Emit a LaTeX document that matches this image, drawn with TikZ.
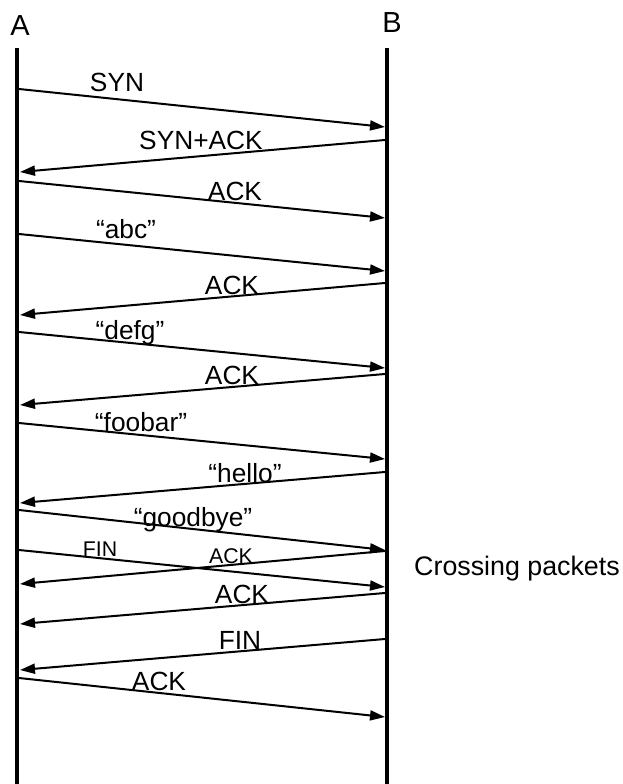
\documentclass[tikz,border=0pt]{standalone}
\usepackage{fontspec}
\setmainfont{Liberation Sans}
\usetikzlibrary{arrows.meta}
\begin{document}
\begin{tikzpicture}[x=1pt,y=-1pt,
  life/.style={line width=3.2pt},
  msg/.style={line width=2pt,-{Triangle[length=15pt,width=10pt]}},
  lbl/.style={anchor=base,inner sep=0pt,font=\fontsize{26.3}{30}\selectfont},
  smalllbl/.style={anchor=base,inner sep=0pt,font=\fontsize{21.3}{24}\selectfont},
  head/.style={anchor=base,inner sep=0pt,font=\fontsize{29}{32}\selectfont}]
\useasboundingbox (0,0) rectangle (623,784);
% lifelines
\coordinate (Atop) at (17,48); \coordinate (Abot) at (17,784);
\coordinate (Btop) at (387,48); \coordinate (Bbot) at (387,784);
\draw[life] (Atop) -- (Abot);
\draw[life] (Btop) -- (Bbot);
\node[head] (Alab) at (20,36) {A};
\node[head] (Blab) at (392,33) {B};
% endpoints
\coordinate (a1) at (19,89);   \coordinate (b1) at (385,127);
\coordinate (b2) at (385,140); \coordinate (a2) at (20,172);
\coordinate (a3) at (19,181);  \coordinate (b3) at (385,218);
\coordinate (a4) at (19,234);  \coordinate (b4) at (385,271);
\coordinate (b5) at (385,283); \coordinate (a5) at (20,315);
\coordinate (a6) at (19,332);  \coordinate (b6) at (385,368);
\coordinate (b7) at (385,374); \coordinate (a7) at (20,405);
\coordinate (a8) at (19,423);  \coordinate (b8) at (385,459);
\coordinate (b9) at (385,472); \coordinate (a9) at (20,503);
\coordinate (a10) at (19,510); \coordinate (b10) at (385,550);
\coordinate (a11) at (19,550); \coordinate (b11) at (385,587);
\coordinate (b12) at (385,551); \coordinate (a12) at (20,584);
\coordinate (b13) at (385,593); \coordinate (a13) at (20,624);
\coordinate (b14) at (385,639); \coordinate (a14) at (20,670);
\coordinate (a15) at (19,678); \coordinate (b15) at (385,717);
% messages
\draw[msg] (a1) -- (b1);
\draw[msg] (b2) -- (a2);
\draw[msg] (a3) -- (b3);
\draw[msg] (a4) -- (b4);
\draw[msg] (b5) -- (a5);
\draw[msg] (a6) -- (b6);
\draw[msg] (b7) -- (a7);
\draw[msg] (a8) -- (b8);
\draw[msg] (b9) -- (a9);
\draw[msg] (a10) -- (b10);
\draw[msg] (a11) -- (b11);
\draw[msg] (b12) -- (a12);
\draw[msg] (b13) -- (a13);
\draw[msg] (b14) -- (a14);
\draw[msg] (a15) -- (b15);
% labels
\node[lbl] (l1) at (117,92) {SYN};
\node[lbl] (l2) at (201,149) {SYN+ACK};
\node[lbl] (l3) at (235,200) {ACK};
\node[lbl] (l4) at (126,238) {“abc”};
\node[lbl] (l5) at (232,294) {ACK};
\node[lbl] (l6) at (130,339) {“defg”};
\node[lbl] (l7) at (232,384) {ACK};
\node[lbl] (l8) at (141,431) {“foobar”};
\node[lbl] (l9) at (245,482) {“hello”};
\node[lbl] (l10) at (193,526) {“goodbye”};
\node[smalllbl] (l11) at (100,556) {FIN};
\node[smalllbl] (l12) at (231,563) {ACK};
\node[lbl] (l13) at (242,603) {ACK};
\node[lbl] (l14) at (240,649) {FIN};
\node[lbl] (l15) at (159,690) {ACK};
\node[lbl,font=\fontsize{26.8}{30}\selectfont] (cross) at (517,575) {Crossing packets};
\end{tikzpicture}
\end{document}
